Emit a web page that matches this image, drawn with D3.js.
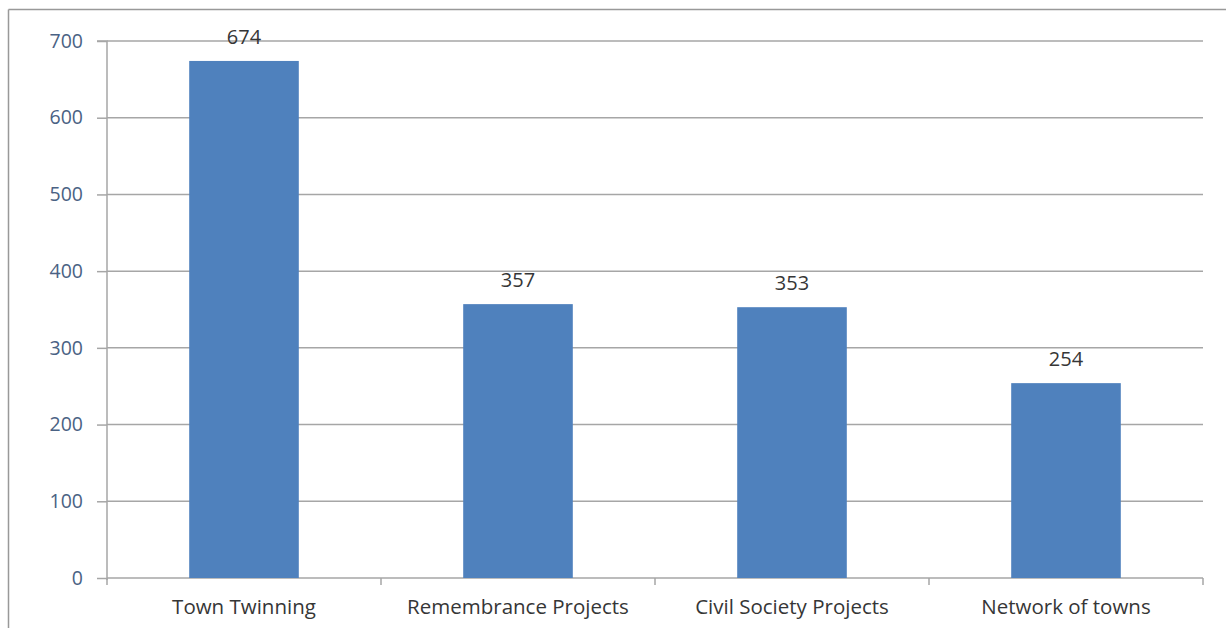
<!DOCTYPE html>
<html><head><meta charset="utf-8">
<script src="https://cdn.jsdelivr.net/npm/d3@7"></script>
<style>body{margin:0;background:#fff}svg{display:block}</style>
</head><body>
<svg id="c" width="1226" height="628"></svg>
<script>
const categories = ["Town Twinning","Remembrance Projects","Civil Society Projects","Network of towns"];
const values = [674, 357, 353, 254];
const yTicks = [0,100,200,300,400,500,600,700];

const svg = d3.select("#c");
const W = 1226, H = 628;
const m = {left:107, right:23, top:41, bottom:50};
const x0 = m.left, x1 = W - m.right, y0 = H - m.bottom, y1 = m.top;
const font = "'Open Sans', 'Liberation Sans', sans-serif";

// outer frame
svg.append("line").attr("x1",8.5).attr("x2",W).attr("y1",9.5).attr("y2",9.5).attr("stroke","#999").attr("stroke-width",1.5);
svg.append("line").attr("x1",8.5).attr("x2",8.5).attr("y1",9.5).attr("y2",H).attr("stroke","#999").attr("stroke-width",1.5);

const x = d3.scaleBand().domain(categories).range([x0,x1]).paddingInner(0.6).paddingOuter(0.3);
const y = d3.scaleLinear().domain([0,700]).range([y0,y1]);

// gridlines
svg.append("g").selectAll("line").data(yTicks.filter(d=>d>0)).join("line")
  .attr("x1",x0).attr("x2",x1).attr("y1",d=>y(d)).attr("y2",d=>y(d))
  .attr("stroke","#a6a6a6").attr("stroke-width",1.5);

// y axis
const ya = svg.append("g").attr("transform",`translate(${x0},0)`)
  .call(d3.axisLeft(y).tickValues(yTicks).tickSize(10).tickPadding(14));
ya.select(".domain").attr("stroke","#a6a6a6").attr("stroke-width",1.5).attr("d",`M-10,${y1}H0V${y0+2}`);
ya.selectAll(".tick line").attr("stroke","#a6a6a6").attr("stroke-width",1.5);
ya.selectAll(".tick text").attr("fill","#4a6284").style("font-family",font).style("font-size","19.5px");

// x axis
const edges = d3.range(categories.length+1).map(i=>x0 + i*(x1-x0)/categories.length);
svg.append("line").attr("x1",x0).attr("x2",x1).attr("y1",y0).attr("y2",y0).attr("stroke","#a6a6a6").attr("stroke-width",1.5);
svg.append("g").selectAll("line").data(edges).join("line")
  .attr("x1",d=>d).attr("x2",d=>d).attr("y1",y0).attr("y2",y0+7)
  .attr("stroke","#a6a6a6").attr("stroke-width",1.5);
svg.append("g").selectAll("text").data(categories).join("text")
  .attr("x",d=>x(d)+x.bandwidth()/2).attr("y",y0+36).attr("text-anchor","middle")
  .attr("fill","#363636").style("font-family",font).style("font-size","20.5px").text(d=>d);

// bars
const data = categories.map((c,i)=>({c, v:values[i]}));
svg.append("g").selectAll("rect").data(data).join("rect")
  .attr("x",d=>x(d.c)).attr("width",x.bandwidth())
  .attr("y",d=>y(d.v)).attr("height",d=>y0-y(d.v)).attr("fill","#4f81bd");

// value labels
svg.append("g").selectAll("text").data(data).join("text")
  .attr("x",d=>x(d.c)+x.bandwidth()/2).attr("y",d=>y(d.v)-17).attr("text-anchor","middle")
  .attr("fill","#363636").style("font-family",font).style("font-size","20px").text(d=>d.v);
</script>
</body></html>
